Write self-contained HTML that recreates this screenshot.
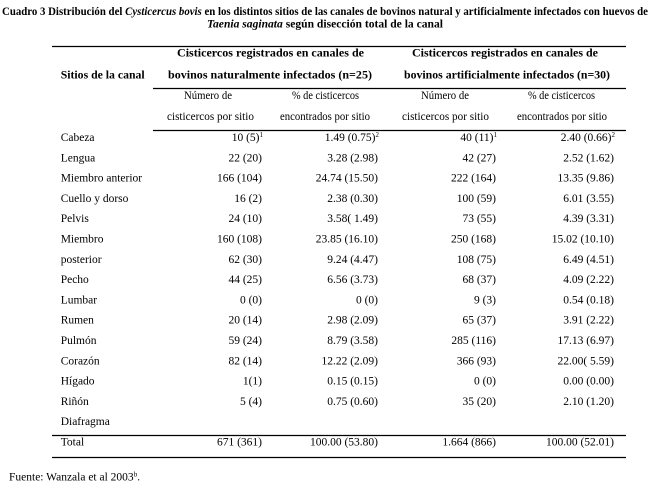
<!DOCTYPE html>
<html>
<head>
<meta charset="utf-8">
<style>
html,body{margin:0;padding:0;background:#fff;}
svg{display:block;}
text{font-family:"Liberation Serif","Times New Roman",serif;fill:#000;}
.b{font-weight:bold;}
.t{font-size:11.5px;}
.h{font-size:12px;font-weight:bold;}
.d{font-size:11.5px;text-anchor:end;}
.c{text-anchor:middle;}
</style>
</head>
<body>
<svg width="650" height="485" viewBox="0 0 650 485" xmlns="http://www.w3.org/2000/svg">
<rect width="650" height="485" fill="#fff"/>
<!-- Title -->
<text class="b" x="2" y="15" font-size="11.5" textLength="646" lengthAdjust="spacingAndGlyphs">Cuadro 3 Distribución del <tspan font-style="italic">Cysticercus bovis</tspan> en los distintos sitios de las canales de bovinos natural y artificialmente infectados con huevos de</text>
<text class="b" x="207" y="27.5" font-size="11.5" textLength="236" lengthAdjust="spacingAndGlyphs"><tspan font-style="italic">Taenia saginata</tspan> según disección total de la canal</text>

<!-- Rules -->
<line x1="52" y1="46.5" x2="626" y2="46.5" stroke="#000" stroke-width="1.2"/>
<line x1="153" y1="88.5" x2="626" y2="88.5" stroke="#000" stroke-width="1.2"/>
<line x1="153" y1="130.5" x2="626" y2="130.5" stroke="#000" stroke-width="1.2"/>
<line x1="52" y1="435.5" x2="626" y2="435.5" stroke="#000" stroke-width="1.2"/>
<line x1="52" y1="457.5" x2="626" y2="457.5" stroke="#000" stroke-width="1.2"/>

<!-- Header -->
<text class="h" x="60.7" y="78.5" textLength="84" lengthAdjust="spacingAndGlyphs">Sitios de la canal</text>
<text class="h" x="177" y="56.5" textLength="187" lengthAdjust="spacingAndGlyphs">Cisticercos registrados en canales de</text>
<text class="h" x="168" y="78.5" textLength="204" lengthAdjust="spacingAndGlyphs">bovinos naturalmente infectados (n=25)</text>
<text class="h" x="412" y="56.5" textLength="186" lengthAdjust="spacingAndGlyphs">Cisticercos registrados en canales de</text>
<text class="h" x="404" y="78.5" textLength="206" lengthAdjust="spacingAndGlyphs">bovinos artificialmente infectados (n=30)</text>

<!-- Subheaders -->
<text class="t" x="184" y="99" textLength="48" lengthAdjust="spacingAndGlyphs">Número de</text>
<text class="t" x="167" y="120" textLength="87" lengthAdjust="spacingAndGlyphs">cisticercos por sitio</text>
<text class="t" x="292" y="99" textLength="67" lengthAdjust="spacingAndGlyphs">% de cisticercos</text>
<text class="t" x="280" y="120" textLength="90" lengthAdjust="spacingAndGlyphs">encontrados por sitio</text>
<text class="t" x="421" y="99" textLength="48" lengthAdjust="spacingAndGlyphs">Número de</text>
<text class="t" x="402" y="120" textLength="87" lengthAdjust="spacingAndGlyphs">cisticercos por sitio</text>
<text class="t" x="528" y="99" textLength="67" lengthAdjust="spacingAndGlyphs">% de cisticercos</text>
<text class="t" x="517" y="120" textLength="90" lengthAdjust="spacingAndGlyphs">encontrados por sitio</text>

<!-- Row labels -->
<g class="t">
<text x="60.7" y="141">Cabeza</text>
<text x="60.7" y="161.3">Lengua</text>
<text x="60.7" y="181.6">Miembro anterior</text>
<text x="60.7" y="201.9">Cuello y dorso</text>
<text x="60.7" y="222.2">Pelvis</text>
<text x="60.7" y="242.5">Miembro</text>
<text x="60.7" y="262.8">posterior</text>
<text x="60.7" y="283.1">Pecho</text>
<text x="60.7" y="303.4">Lumbar</text>
<text x="60.7" y="323.7">Rumen</text>
<text x="60.7" y="344">Pulmón</text>
<text x="60.7" y="364.3">Corazón</text>
<text x="60.7" y="384.6">Hígado</text>
<text x="60.7" y="404.9">Riñón</text>
<text x="60.7" y="425.2">Diafragma</text>
<text x="60.7" y="445.5">Total</text>
</g>

<!-- Column 1 -->
<g class="d">
<text x="263" y="141">10 (5)<tspan font-size="7" dy="-4">1</tspan></text>
<text x="262" y="161.3">22 (20)</text>
<text x="262" y="181.6">166 (104)</text>
<text x="262" y="201.9">16 (2)</text>
<text x="262" y="222.2">24 (10)</text>
<text x="262" y="242.5">160 (108)</text>
<text x="262" y="262.8">62 (30)</text>
<text x="262" y="283.1">44 (25)</text>
<text x="262" y="303.4">0 (0)</text>
<text x="262" y="323.7">20 (14)</text>
<text x="262" y="344">59 (24)</text>
<text x="262" y="364.3">82 (14)</text>
<text x="262" y="384.6">1(1)</text>
<text x="262" y="404.9">5 (4)</text>
<text x="262" y="445.5">671 (361)</text>
</g>

<!-- Column 2 -->
<g class="d">
<text x="379" y="141">1.49 (0.75)<tspan font-size="7" dy="-4">2</tspan></text>
<text x="378" y="161.3">3.28 (2.98)</text>
<text x="378" y="181.6">24.74 (15.50)</text>
<text x="378" y="201.9">2.38 (0.30)</text>
<text x="378" y="222.2">3.58( 1.49)</text>
<text x="378" y="242.5">23.85 (16.10)</text>
<text x="378" y="262.8">9.24 (4.47)</text>
<text x="378" y="283.1">6.56 (3.73)</text>
<text x="378" y="303.4">0 (0)</text>
<text x="378" y="323.7">2.98 (2.09)</text>
<text x="378" y="344">8.79 (3.58)</text>
<text x="378" y="364.3">12.22 (2.09)</text>
<text x="378" y="384.6">0.15 (0.15)</text>
<text x="378" y="404.9">0.75 (0.60)</text>
<text x="378" y="445.5">100.00 (53.80)</text>
</g>

<!-- Column 3 -->
<g class="d">
<text x="497" y="141">40 (11)<tspan font-size="7" dy="-4">1</tspan></text>
<text x="496" y="161.3">42 (27)</text>
<text x="496" y="181.6">222 (164)</text>
<text x="496" y="201.9">100 (59)</text>
<text x="496" y="222.2">73 (55)</text>
<text x="496" y="242.5">250 (168)</text>
<text x="496" y="262.8">108 (75)</text>
<text x="496" y="283.1">68 (37)</text>
<text x="496" y="303.4">9 (3)</text>
<text x="496" y="323.7">65 (37)</text>
<text x="496" y="344">285 (116)</text>
<text x="496" y="364.3">366 (93)</text>
<text x="496" y="384.6">0 (0)</text>
<text x="496" y="404.9">35 (20)</text>
<text x="496" y="445.5">1.664 (866)</text>
</g>

<!-- Column 4 -->
<g class="d">
<text x="615" y="141">2.40 (0.66)<tspan font-size="7" dy="-4">2</tspan></text>
<text x="614" y="161.3">2.52 (1.62)</text>
<text x="614" y="181.6">13.35 (9.86)</text>
<text x="614" y="201.9">6.01 (3.55)</text>
<text x="614" y="222.2">4.39 (3.31)</text>
<text x="614" y="242.5">15.02 (10.10)</text>
<text x="614" y="262.8">6.49 (4.51)</text>
<text x="614" y="283.1">4.09 (2.22)</text>
<text x="614" y="303.4">0.54 (0.18)</text>
<text x="614" y="323.7">3.91 (2.22)</text>
<text x="614" y="344">17.13 (6.97)</text>
<text x="614" y="364.3">22.00( 5.59)</text>
<text x="614" y="384.6">0.00 (0.00)</text>
<text x="614" y="404.9">2.10 (1.20)</text>
<text x="614" y="445.5">100.00 (52.01)</text>
</g>

<!-- Source -->
<text class="t" x="9" y="480.5">Fuente: Wanzala et al 2003<tspan font-size="7" dy="-4">b</tspan><tspan dy="4">.</tspan></text>
</svg>
</body>
</html>
